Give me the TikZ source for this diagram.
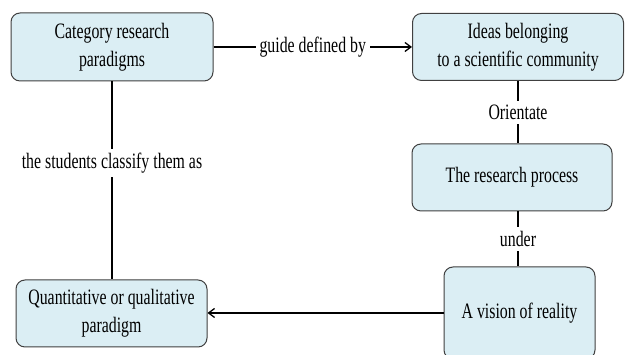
\documentclass[tikz,border=0pt]{standalone}
\usepackage{fontspec}
\setmainfont{Liberation Serif}[FakeStretch=0.72]
\usetikzlibrary{arrows.meta}
\definecolor{edge}{HTML}{404040}
\definecolor{soft}{HTML}{DBEEF4}
\newcommand{\txt}{\fontsize{22}{28}\selectfont}
\tikzset{
  box/.style={draw=edge,fill=soft,rounded corners=9pt,line width=1pt,align=center,font=\txt},
  lbl/.style={fill=white,inner sep=4pt,font=\txt},
  link/.style={line width=1.3pt,black},
  arr/.style={link,-{Straight Barb[length=6pt,width=9pt]}},
}
\begin{document}
\begin{tikzpicture}[x=1pt,y=1pt]
\useasboundingbox (0,0) rectangle (625,355);
\clip (0,0) rectangle (625,355);
\fill[white] (0,0) rectangle (625,355);
\node[box,minimum width=202pt,minimum height=68pt] (cat) at (112,308) {Category research\\paradigms};
\node[box,minimum width=211pt,minimum height=67pt] (ideas) at (518,308) {Ideas belonging\\to a scientific community};
\node[box,minimum width=200pt,minimum height=67pt] (proc) at (512,177.5) {The research process};
\node[box,minimum width=151pt,minimum height=92pt] (vis) at (519.5,42) {A vision of reality};
\node[box,minimum width=191pt,minimum height=67pt] (quant) at (111.5,41.5) {Quantitative or qualitative\\paradigm};
\draw[arr] (cat.east) -- node[lbl]{guide defined by} (cat.east -| ideas.west);
\draw[link] (ideas.south) -- node[lbl]{Orientate} (ideas.south |- proc.north);
\draw[link] (proc.south -| ideas.south) -- node[lbl]{under} (vis.north -| ideas.south);
\draw[link] (cat.south) -- node[lbl,pos=0.41]{the students classify them as} (quant.north -| cat.south);
\draw[arr] (vis.west) -- (vis.west -| quant.east);
\end{tikzpicture}
\end{document}
